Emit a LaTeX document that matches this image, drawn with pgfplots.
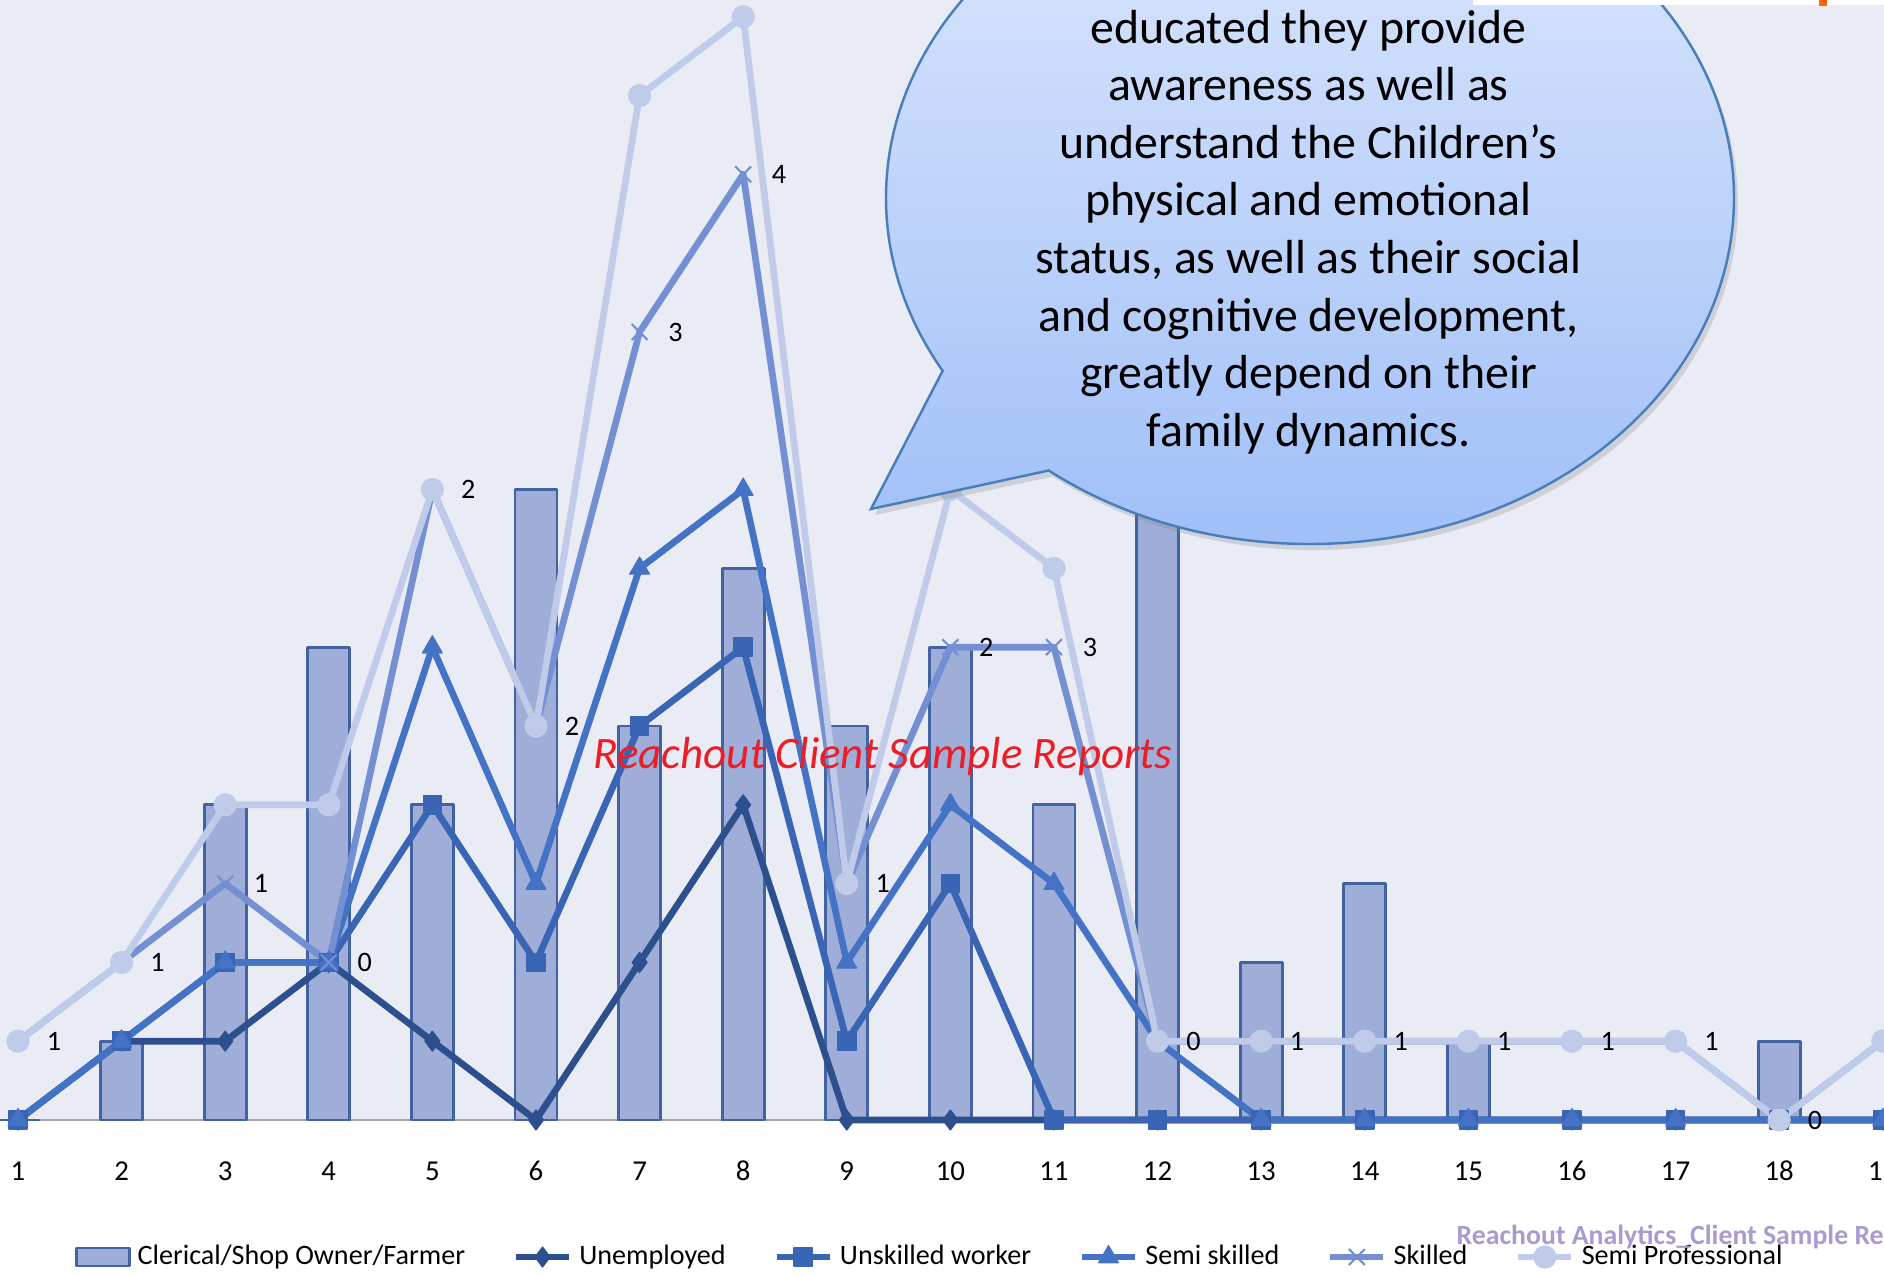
\documentclass[border=0pt]{standalone}
\usepackage{fontspec}
\setmainfont{Carlito}
\usepackage{pgfplots}
\usepackage{pgfplotstable}
\pgfplotsset{compat=1.18}
\usetikzlibrary{shapes.callouts,shadows}

\definecolor{bgc}{HTML}{E9EBF5}
\definecolor{barfill}{HTML}{9EAED9}
\definecolor{barline}{HTML}{4262A2}
\definecolor{cUnemp}{HTML}{2E4F8E}
\definecolor{cUnsk}{HTML}{3A64B4}
\definecolor{cSemi}{HTML}{4472C4}
\definecolor{cSk}{HTML}{7490D2}
\definecolor{cSP}{HTML}{BFCBE8}
\definecolor{bubtop}{HTML}{DDE8FD}
\definecolor{bubbot}{HTML}{9CBDF7}
\definecolor{bubline}{HTML}{4A7EBB}
\definecolor{wmred}{HTML}{EE1C25}
\definecolor{wmpurple}{HTML}{A99AD0}

\pgfplotstableread{
x  bar unemp unsk semi skill sp lab
1  0   0     0    0    1     1  1
2  1   1     1    1    2     2  1
3  4   1     2    2    3     4  1
4  6   2     2    2    2     4  0
5  4   1     4    6    8     8  2
6  8   0     2    3    5     5  2
7  5   2     5    7    10    13 3
8  7   4     6    8    12    14 4
9  5   0     1    2    3     3  1
10 6   0     3    4    6     8  2
11 4   0     0    3    6     7  3
12 9   0     0    1    1     1  0
13 2   0     0    0    1     1  1
14 3   0     0    0    1     1  1
15 1   0     0    0    1     1  1
16 0   0     0    0    1     1  1
17 0   0     0    0    1     1  1
18 1   0     0    0    0     0  0
19 0   0     0    0    1     1  1
}\data

\begin{document}
\begin{tikzpicture}
\path[use as bounding box, clip] (0,0) rectangle (18.84,12.75);
\fill[bgc] (0,1.55) rectangle (18.84,12.75);
\draw[black!35, line width=0.8pt] (0,1.55) -- (18.84,1.55);
\begin{axis}[
  at={(0,0)}, anchor=south west,
  scale only axis, width=18.84cm, height=12.75cm,
  xmin=0.8263, xmax=19.012, ymin=-1.967, ymax=14.213,
  axis line style={draw=none},
  ytick=\empty,
  xtick={1,2,3,4,5,6,7,8,9,10,11,12,13,14,15,16,17,18,19},
  xticklabels={1,2,3,4,5,6,7,8,9,10,11,12,13,14,15,16,17,18,19},
  major tick length=0pt,
  xticklabel style={anchor=center, yshift=1.04cm, font=\fontsize{8.2}{10}\selectfont},
  /pgf/number format/assume math mode=true,
  legend columns=6,
  legend cell align=left,
  legend style={at={(0.0393,0.0141)}, anchor=west, draw=none, fill=none, inner sep=0pt,
    font=\fontsize{8}{9}\selectfont,
    /tikz/every even column/.append style={column sep=0.405cm}},
  legend image code/.code={\draw[mark repeat=2,mark phase=2,#1] plot coordinates {(0cm,0cm) (0.265cm,0cm) (0.53cm,0cm)};},
  line join=round,
]
\addplot[ybar, bar width=0.42cm, fill=barfill, draw=barline, line width=0.8pt,
  legend image code/.code={\draw[fill=barfill, draw=barline, line width=0.8pt] (0cm,-0.09cm) rectangle (0.53cm,0.09cm);}]
  table[x=x,y=bar]{\data};
\addlegendentry{Clerical/Shop Owner/Farmer}
\addplot[cUnemp, line width=1.9pt, mark=diamond*, mark size=2.8pt, mark options={solid, line width=0.4pt}]
  table[x=x,y=unemp]{\data};
\addlegendentry{Unemployed}
\addplot[cUnsk, line width=1.9pt, mark=square*, mark size=2.6pt, mark options={solid, line width=0.4pt}]
  table[x=x,y=unsk]{\data};
\addlegendentry{Unskilled worker}
\addplot[cSemi, line width=1.9pt, mark=triangle*, mark size=3.2pt, mark options={solid, line width=0.4pt}]
  table[x=x,y=semi]{\data};
\addlegendentry{Semi skilled}
\addplot[cSk, line width=1.9pt, mark=x, mark size=3.2pt, mark options={solid, line width=0.6pt},
  nodes near coords, point meta=explicit symbolic,
  every node near coord/.append style={anchor=west, xshift=0.16cm, text=black, font=\fontsize{8}{9}\selectfont}]
  table[x=x,y=skill,meta=lab]{\data};
\addlegendentry{Skilled}
\addplot[cSP, line width=1.9pt, mark=*, mark size=3.1pt, mark options={solid, line width=0.4pt}]
  table[x=x,y=sp]{\data};
\addlegendentry{Semi Professional}
\end{axis}
\node[text=wmred, font=\itshape\fontsize{12.8}{15}\selectfont] at (8.83,5.18) {Reachout Client Sample Reports};
\node[text=wmpurple, font=\bfseries\fontsize{7.9}{9}\selectfont, anchor=base west, inner sep=0pt] at (14.56,0.31) {Reachout Analytics\_Client Sample Reports};
\node[ellipse callout, minimum width=8.48cm, minimum height=6.92cm, inner sep=0pt,
  callout absolute pointer={(8.71,7.66)}, callout pointer arc=22,
  top color=bubtop, bottom color=bubbot, draw=bubline, line width=0.7pt,
  drop shadow={shadow xshift=0.04cm, shadow yshift=-0.06cm, opacity=0.25}] at (13.10,10.77) {};
\node[align=center, text=black, font=\fontsize{13.6}{16.4}\selectfont] at (13.085,10.43)
  {educated they provide\\awareness as well as\\understand the Children's\\physical and emotional\\status, as well as their social\\and cognitive development,\\greatly depend on their\\family dynamics.};
\fill[white] (14.73,12.70) rectangle (18.84,12.80);
\fill[orange!80!red] (18.19,12.69) rectangle (18.27,12.75);
\end{tikzpicture}
\end{document}
